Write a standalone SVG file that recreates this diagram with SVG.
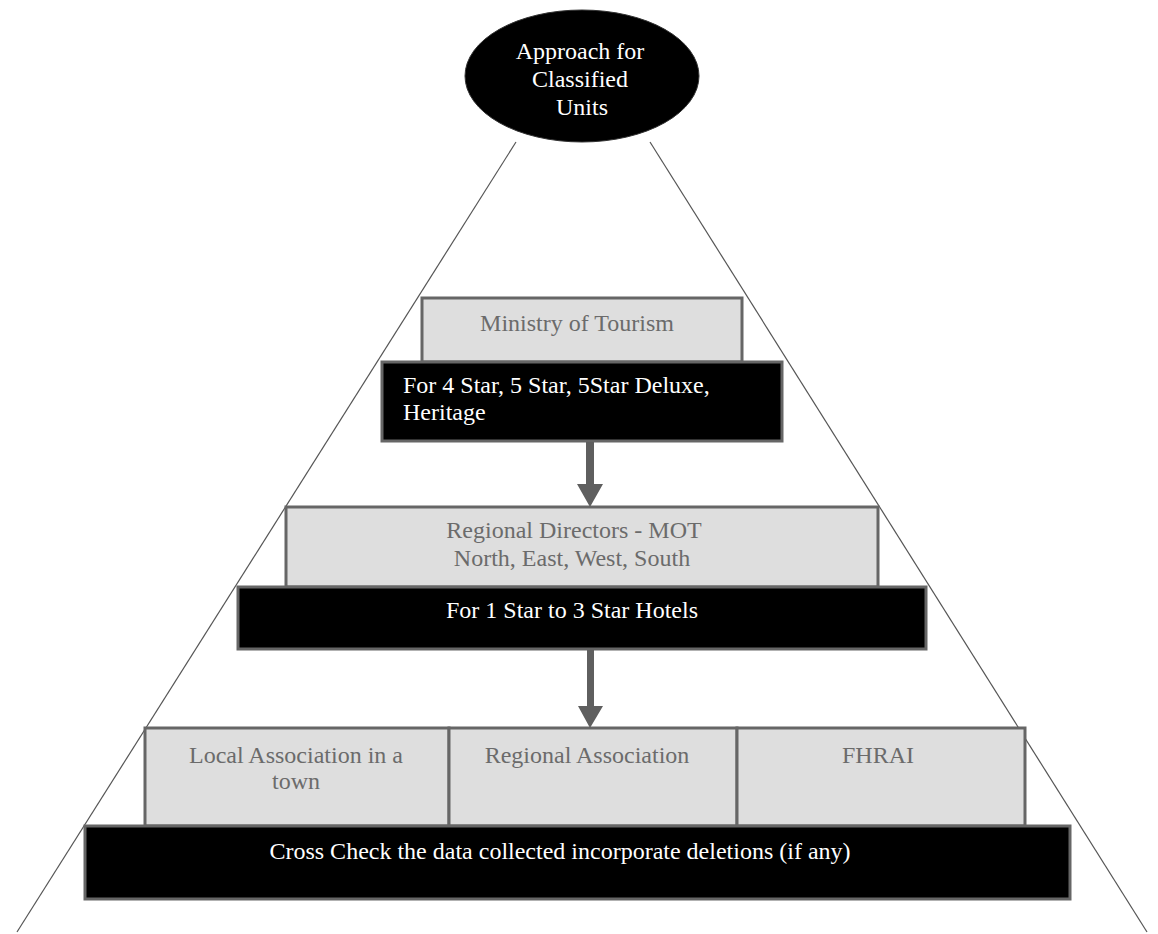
<svg xmlns="http://www.w3.org/2000/svg" width="1158" height="934" viewBox="0 0 1158 934">
<style>
.t{font-family:"Liberation Serif","Times New Roman",serif;font-size:24px}
.w{fill:#ffffff}
.g{fill:#6b6b6b}
.lite{fill:#dedede;stroke:#666666;stroke-width:3}
.dark{fill:#000000;stroke:#666666;stroke-width:3}
.side{stroke:#555555;stroke-width:1.2;fill:none}
.arr{fill:#5f5f5f}
</style>
<g id="sides">
<line class="side" x1="516" y1="142" x2="17" y2="932"/>
<line class="side" x1="650" y1="142" x2="1147" y2="932"/>
</g>
<g id="top">
<ellipse cx="582" cy="76" rx="117" ry="66" fill="#000" stroke="#333" stroke-width="1"/>
<text class="t w" text-anchor="middle" x="580" y="59">Approach for</text>
<text class="t w" text-anchor="middle" x="580" y="87">Classified</text>
<text class="t w" text-anchor="middle" x="582" y="115">Units</text>
</g>
<g id="ministry">
<rect class="lite" x="422" y="298" width="320" height="64"/>
<text class="t g" text-anchor="middle" x="577" y="331">Ministry of Tourism</text>
</g>
<g id="cat1">
<rect class="dark" x="382" y="362" width="400" height="79"/>
<text class="t w" x="403" y="393">For 4 Star, 5 Star, 5Star Deluxe,</text>
<text class="t w" x="403" y="420">Heritage</text>
</g>
<g id="regional-directors">
<rect class="lite" x="286" y="507" width="592" height="80"/>
<text class="t g" text-anchor="middle" x="574" y="538">Regional Directors - MOT</text>
<text class="t g" text-anchor="middle" x="572" y="566">North, East, West, South</text>
</g>
<g id="cat2">
<rect class="dark" x="238" y="587" width="688" height="62"/>
<text class="t w" text-anchor="middle" x="572" y="618">For 1 Star to 3 Star Hotels</text>
</g>
<g id="local">
<rect class="lite" x="145" y="728" width="304" height="98"/>
<text class="t g" text-anchor="middle" x="296" y="763">Local Association in a</text>
<text class="t g" text-anchor="middle" x="296" y="789">town</text>
</g>
<g id="regional-assoc">
<rect class="lite" x="449" y="728" width="288" height="98"/>
<text class="t g" text-anchor="middle" x="587" y="763">Regional Association</text>
</g>
<g id="fhrai">
<rect class="lite" x="737" y="728" width="288" height="98"/>
<text class="t g" text-anchor="middle" x="878" y="763">FHRAI</text>
</g>
<g id="crosscheck">
<rect class="dark" x="85" y="826" width="985" height="73"/>
<text class="t w" text-anchor="middle" x="560" y="859">Cross Check the data collected incorporate deletions (if any)</text>
</g>
<g id="connectors">
<path class="arr" d="M586 442 H594 V484 H603 L590 507 L577 484 H586 Z"/>
<path class="arr" d="M587 650 H594 V706 H603 L590 728 L578 706 H587 Z"/>
</g>
</svg>
